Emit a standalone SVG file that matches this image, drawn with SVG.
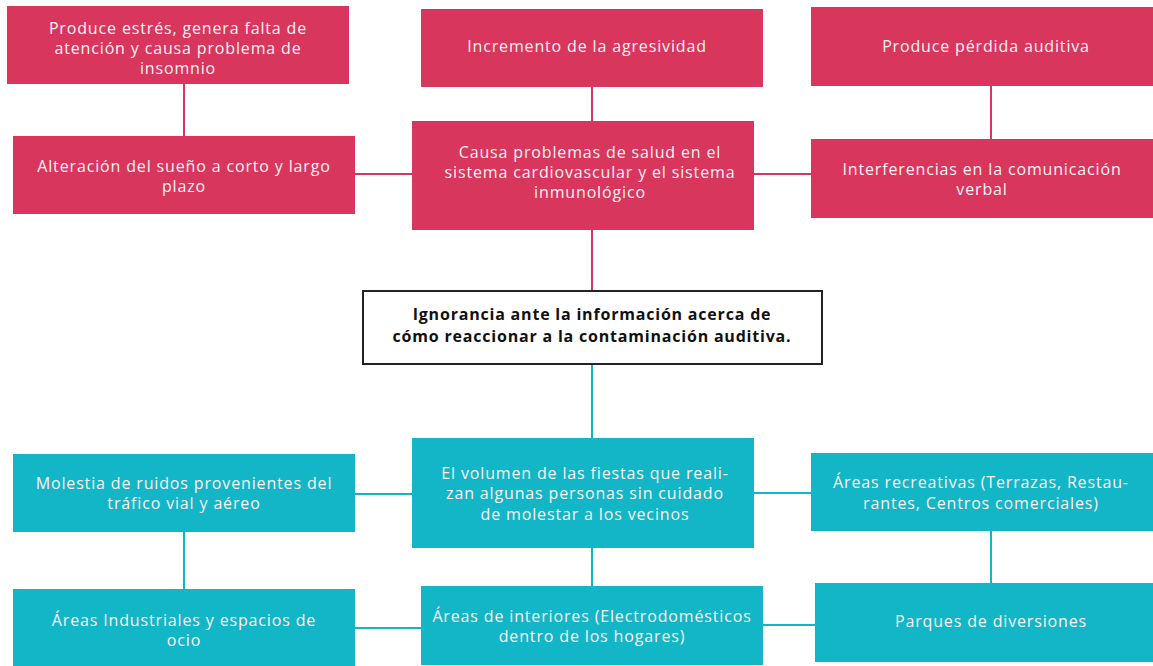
<svg xmlns="http://www.w3.org/2000/svg" width="1153" height="666" viewBox="0 0 1153 666">
<style>
.r{fill:#d8365c}
.t{fill:#13b6c6}
.lr{stroke:#d8365c;stroke-width:2;fill:none}
.lt{stroke:#13b6c6;stroke-width:2;fill:none}
.tx{font-family:"Open Sans","Liberation Sans",sans-serif;font-size:16px;letter-spacing:0.85px;fill:#fbf1f4;text-anchor:middle}
.tb{font-family:"Open Sans","Liberation Sans",sans-serif;font-size:16px;letter-spacing:0.8px;font-weight:bold;fill:#111;text-anchor:middle}
</style>
<rect width="1153" height="666" fill="#fff"/>
<g id="connectors">
<line class="lr" x1="184" y1="84" x2="184" y2="136"/>
<line class="lr" x1="355" y1="174" x2="412" y2="174"/>
<line class="lr" x1="592" y1="87" x2="592" y2="121"/>
<line class="lr" x1="592" y1="230" x2="592" y2="291"/>
<line class="lr" x1="754" y1="174" x2="811" y2="174"/>
<line class="lr" x1="991" y1="86" x2="991" y2="139"/>
<line class="lt" x1="592" y1="364" x2="592" y2="438"/>
<line class="lt" x1="355" y1="494" x2="412" y2="494"/>
<line class="lt" x1="754" y1="493" x2="811" y2="493"/>
<line class="lt" x1="184" y1="532" x2="184" y2="589"/>
<line class="lt" x1="592" y1="548" x2="592" y2="586"/>
<line class="lt" x1="991" y1="531" x2="991" y2="583"/>
<line class="lt" x1="355" y1="628" x2="421" y2="628"/>
<line class="lt" x1="763" y1="625" x2="815" y2="625"/>
</g>
<g id="n-estres">
<rect class="r" x="7" y="6" width="342" height="78"/>
<text class="tx" x="178" y="34">Produce estrés, genera falta de</text>
<text class="tx" x="178" y="54">atención y causa problema de</text>
<text class="tx" x="178" y="74">insomnio</text>
</g>
<g id="n-sueno">
<rect class="r" x="13" y="136" width="342" height="78"/>
<text class="tx" x="184" y="172">Alteración del sueño a corto y largo</text>
<text class="tx" x="184" y="192">plazo</text>
</g>
<g id="n-agresividad">
<rect class="r" x="421" y="9" width="342" height="78"/>
<text class="tx" x="587" y="52">Incremento de la agresividad</text>
</g>
<g id="n-salud">
<rect class="r" x="412" y="121" width="342" height="109"/>
<text class="tx" x="590" y="158">Causa problemas de salud en el</text>
<text class="tx" x="590" y="178">sistema cardiovascular y el sistema</text>
<text class="tx" x="590" y="198">inmunológico</text>
</g>
<g id="n-perdida">
<rect class="r" x="811" y="7" width="350" height="79"/>
<text class="tx" x="986" y="52">Produce pérdida auditiva</text>
</g>
<g id="n-comunicacion">
<rect class="r" x="811" y="139" width="342" height="79"/>
<text class="tx" x="982" y="175">Interferencias en la comunicación</text>
<text class="tx" x="982" y="195">verbal</text>
</g>
<g id="n-ignorancia">
<rect x="363" y="291" width="459" height="73" fill="#fff" stroke="#222" stroke-width="2"/>
<text class="tb" x="592" y="320">Ignorancia ante la información acerca de</text>
<text class="tb" x="592" y="342">cómo reaccionar a la contaminación auditiva.</text>
</g>
<g id="n-trafico">
<rect class="t" x="13" y="454" width="342" height="78"/>
<text class="tx" x="184" y="489">Molestia de ruidos provenientes del</text>
<text class="tx" x="184" y="509">tráfico vial y aéreo</text>
</g>
<g id="n-fiestas">
<rect class="t" x="412" y="438" width="342" height="110"/>
<text class="tx" x="585" y="479">El volumen de las fiestas que reali-</text>
<text class="tx" x="585" y="499">zan algunas personas sin cuidado</text>
<text class="tx" x="585" y="520">de molestar a los vecinos</text>
</g>
<g id="n-recreativas">
<rect class="t" x="811" y="453" width="350" height="78"/>
<text class="tx" x="981" y="488">Áreas recreativas (Terrazas, Restau-</text>
<text class="tx" x="981" y="509">rantes, Centros comerciales)</text>
</g>
<g id="n-industriales">
<rect class="t" x="13" y="589" width="342" height="78"/>
<text class="tx" x="184" y="626">Áreas Industriales y espacios de</text>
<text class="tx" x="184" y="646">ocio</text>
</g>
<g id="n-interiores">
<rect class="t" x="421" y="586" width="342" height="79"/>
<text class="tx" x="592" y="622">Áreas de interiores (Electrodomésticos</text>
<text class="tx" x="592" y="642">dentro de los hogares)</text>
</g>
<g id="n-parques">
<rect class="t" x="815" y="583" width="346" height="79"/>
<text class="tx" x="991" y="627">Parques de diversiones</text>
</g>
</svg>
